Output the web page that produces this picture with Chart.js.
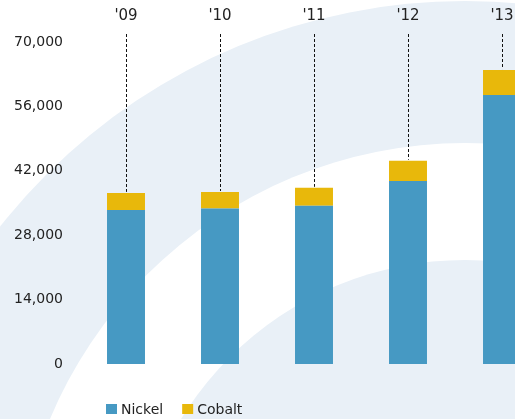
<!DOCTYPE html>
<html>
<head>
<meta charset="utf-8">
<script src="https://cdn.jsdelivr.net/npm/chart.js@4.4.1/dist/chart.umd.min.js"></script>
<style>
  html, body { margin: 0; padding: 0; background: #fff; }
  #wrap { position: relative; width: 515px; height: 419px; overflow: hidden; }
  #productionChart { display: block; }
</style>
</head>
<body>
<div id="wrap">
  <canvas id="productionChart" width="560" height="419"></canvas>
</div>
<script>
// Production by year, tonnes
var years = ["'09", "'10", "'11", "'12", "'13"];
var nickel = [33500, 33800, 34400, 39800, 58500];
var cobalt = [3700, 3600, 3900, 4400, 5400];
var yTicks = [0, 14000, 28000, 42000, 56000, 70000];

var FONT = { family: 'DejaVu Sans', size: 14 };
var TEXT = '#222';
var BAND = '#e9f0f7';

// Soft concentric arcs behind the chart
var arcBackground = {
    id: 'arcBackground',
    beforeDraw: function (chart) {
        var c = chart.ctx;
        var cx = 465, cy = 593;
        c.save();
        c.fillStyle = '#fff';
        c.fillRect(0, 0, chart.width, chart.height);
        [[592, BAND], [450, '#fff'], [333, BAND]].forEach(function (r) {
            c.beginPath();
            c.arc(cx, cy, r[0], 0, Math.PI * 2);
            c.fillStyle = r[1];
            c.fill();
        });
        c.restore();
    }
};

// Dashed leader from each year label down to the top of its stack
var leaders = {
    id: 'leaders',
    afterDatasetsDraw: function (chart) {
        var c = chart.ctx;
        var x = chart.scales.x, y = chart.scales.y;
        c.save();
        c.strokeStyle = '#111';
        c.lineWidth = 1;
        c.setLineDash([3, 2]);
        years.forEach(function (yr, i) {
            var px = Math.round(x.getPixelForValue(i)) + 0.5;
            var top = y.getPixelForValue(nickel[i] + cobalt[i]);
            c.beginPath();
            c.moveTo(px, chart.chartArea.top - 8);
            c.lineTo(px, top - 1);
            c.stroke();
        });
        c.restore();
    }
};

// Legend row under the bars
var bottomLegend = {
    id: 'bottomLegend',
    afterDraw: function (chart) {
        var c = chart.ctx;
        var x = 106, y = 404;
        c.save();
        c.font = FONT.size + 'px ' + FONT.family;
        c.textBaseline = 'alphabetic';
        chart.data.datasets.forEach(function (ds) {
            c.fillStyle = ds.backgroundColor;
            c.fillRect(x, y, 11, 10);
            c.fillStyle = TEXT;
            c.fillText(ds.label, x + 15, y + 10);
            x += 15 + c.measureText(ds.label).width + 19;
        });
        c.restore();
    }
};

var ctx = document.getElementById('productionChart').getContext('2d');
var productionChart = new Chart(ctx, {
    type: 'bar',
    data: {
        labels: years,
        datasets: [{
            label: 'Nickel',
            data: nickel,
            backgroundColor: '#4699c3'
        }, {
            label: 'Cobalt',
            data: cobalt,
            backgroundColor: '#e8b80b'
        }]
    },
    options: {
        responsive: false,
        animation: false,
        layout: { padding: { top: 8, left: 14, right: 11, bottom: 55 } },
        datasets: {
            bar: { categoryPercentage: 1, barPercentage: 0.404 }
        },
        scales: {
            x: {
                stacked: true,
                position: 'top',
                grid: { display: false, drawTicks: false },
                border: { display: false },
                afterFit: function (axis) { axis.height = 34; },
                ticks: { color: TEXT, font: { family: 'DejaVu Sans', size: 15 }, padding: 17 }
            },
            y: {
                stacked: true,
                min: 0,
                max: 70000,
                grid: { display: false, drawTicks: false },
                border: { display: false },
                afterFit: function (axis) { axis.width = 65; },
                afterBuildTicks: function (axis) {
                    axis.ticks = yTicks.map(function (v) { return { value: v }; });
                },
                ticks: {
                    color: TEXT,
                    font: FONT,
                    padding: 16,
                    callback: function (v) { return v.toLocaleString('en-US'); }
                }
            }
        },
        plugins: {
            legend: { display: false },
            tooltip: { enabled: false }
        }
    },
    plugins: [arcBackground, leaders, bottomLegend]
});
</script>
</body>
</html>
